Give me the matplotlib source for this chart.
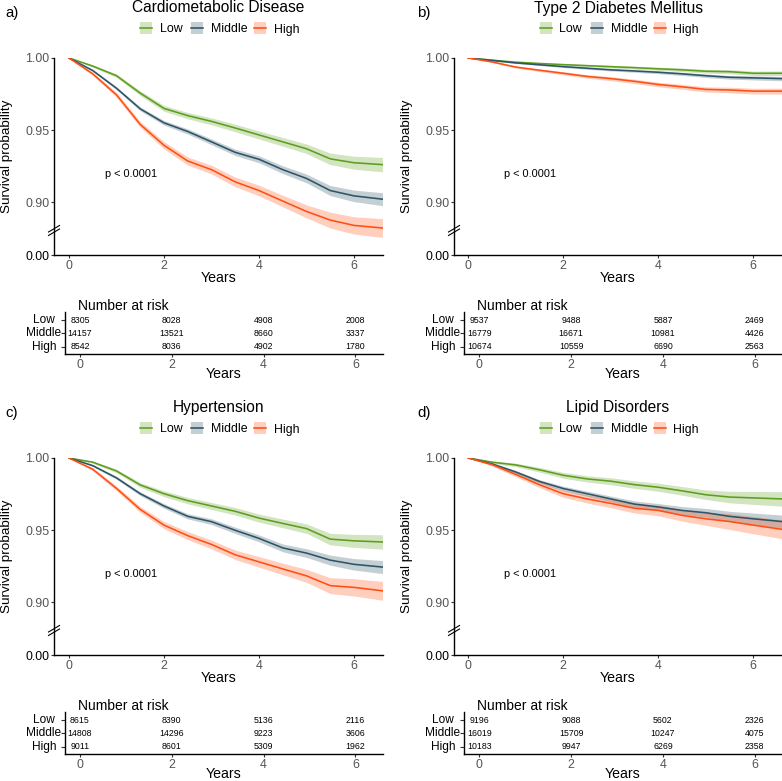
import matplotlib
matplotlib.use("Agg")
import matplotlib.pyplot as plt
from matplotlib.patches import Rectangle
from matplotlib.lines import Line2D

plt.rcParams['font.family'] = ['Liberation Sans', 'DejaVu Sans']

W, H = 782, 781
DPI = 100

# ---------------- data ----------------
groups = ["Low", "Middle", "High"]
colors = ["#5E9E1E", "#2E5467", "#FF4F12"]

times = [0, 0.5, 1, 1.5, 2, 2.5, 3, 3.5, 4, 4.5, 5, 5.5, 6, 6.6]

titles = ["Cardiometabolic Disease", "Type 2 Diabetes Mellitus", "Hypertension", "Lipid Disorders"]
panel_tags = ["a)", "b)", "c)", "d)"]
pval_text = "p < 0.0001"

# survival estimates (Low, Middle, High) per panel
surv_a_low = [1.0, 0.9944, 0.9877, 0.9756, 0.965, 0.960, 0.956, 0.9514, 0.9466, 0.9418, 0.937, 0.930, 0.9273, 0.926]
surv_a_mid = [1.0, 0.9913, 0.979, 0.9647, 0.955, 0.949, 0.9418, 0.9345, 0.9297, 0.9225, 0.9164, 0.908, 0.9043, 0.902]
surv_a_high = [1.0, 0.989, 0.9744, 0.9539, 0.9394, 0.9285, 0.9225, 0.914, 0.908, 0.9007, 0.8935, 0.8875, 0.8838, 0.882]

surv_b_low = [1.0, 0.9985, 0.9971, 0.9962, 0.9954, 0.9947, 0.994, 0.9933, 0.9925, 0.9918, 0.9908, 0.9905, 0.9894, 0.9894]
surv_b_mid = [1.0, 0.9983, 0.9966, 0.9953, 0.994, 0.9929, 0.9918, 0.991, 0.9901, 0.989, 0.9877, 0.9866, 0.9862, 0.9857]
surv_b_high = [1.0, 0.9973, 0.9937, 0.9915, 0.9894, 0.9872, 0.9857, 0.9838, 0.9816, 0.9800, 0.9782, 0.9778, 0.977, 0.977]

surv_c_low = [1.0, 0.9971, 0.991, 0.9813, 0.9752, 0.9704, 0.9667, 0.963, 0.9583, 0.9546, 0.951, 0.9437, 0.9425, 0.9417]
surv_c_mid = [1.0, 0.9947, 0.9862, 0.9752, 0.9667, 0.9595, 0.9558, 0.9498, 0.9442, 0.9376, 0.934, 0.9291, 0.9262, 0.9243]
surv_c_high = [1.0, 0.9922, 0.9789, 0.9643, 0.9534, 0.9461, 0.94, 0.9328, 0.9279, 0.923, 0.9182, 0.9114, 0.9102, 0.9078]

surv_d_low = [1.0, 0.9971, 0.9952, 0.9918, 0.988, 0.9855, 0.9839, 0.9815, 0.9797, 0.9772, 0.9745, 0.9729, 0.9723, 0.9716]
surv_d_mid = [1.0, 0.9959, 0.9903, 0.9837, 0.9788, 0.9752, 0.9716, 0.968, 0.966, 0.9636, 0.962, 0.9595, 0.9578, 0.9559]
surv_d_high = [1.0, 0.9954, 0.9886, 0.9814, 0.9752, 0.9716, 0.9685, 0.9651, 0.9636, 0.9602, 0.9578, 0.9559, 0.9534, 0.9505]

# confidence-band half widths
ci_big_low = [0, .0008, .0012, .0016, .002, .0022, .0024, .0026, .0028, .003, .0033, .004, .0045, .005]
ci_big_mid = [0, .0007, .001, .0013, .0016, .0018, .002, .0022, .0024, .0027, .003, .0035, .004, .0045]
ci_big_high = [0, .0011, .0016, .002, .0025, .0028, .003, .0033, .0037, .004, .0045, .0055, .006, .0065]
ci_small_low = [0, .0003, .0005, .0006, .0007, .0008, .0009, .001, .0011, .0012, .0013, .0014, .0015, .0016]
ci_small_mid = [0, .0003, .0004, .0005, .0006, .0007, .0008, .0009, .001, .0011, .0012, .0013, .0014, .0015]
ci_small_high = [0, .0005, .0007, .0009, .0011, .0012, .0014, .0015, .0016, .0017, .0018, .0019, .002, .0021]

# number at risk
risk_times = [0, 2, 4, 6]
risk_a = [[8305, 8028, 4908, 2008], [14157, 13521, 8660, 3337], [8542, 8036, 4902, 1780]]
risk_b = [[9537, 9488, 5887, 2469], [16779, 16671, 10981, 4426], [10674, 10559, 6690, 2563]]
risk_c = [[8615, 8390, 5136, 2116], [14808, 14296, 9223, 3606], [9011, 8601, 5309, 1962]]
risk_d = [[9196, 9088, 5602, 2326], [16019, 15709, 10247, 4075], [10183, 9947, 6269, 2358]]

y_ticks = [0.90, 0.95, 1.00]
y_tick_labels = ["0.90", "0.95", "1.00"]
break_label = "0.00"
x_ticks = [0, 2, 4, 6]

panels = [
    dict(surv=[surv_a_low, surv_a_mid, surv_a_high], ci=[ci_big_low, ci_big_mid, ci_big_high], risk=risk_a),
    dict(surv=[surv_b_low, surv_b_mid, surv_b_high], ci=[ci_small_low, ci_small_mid, ci_small_high], risk=risk_b),
    dict(surv=[surv_c_low, surv_c_mid, surv_c_high], ci=[ci_big_low, ci_big_mid, ci_big_high], risk=risk_c),
    dict(surv=[surv_d_low, surv_d_mid, surv_d_high], ci=[ci_big_low, ci_big_mid, ci_big_high], risk=risk_d),
]

# ---------------- layout (pixels) ----------------
geo = [
    dict(oy=0, L=54, R=383, x0=69, tL=65, tR=383, tx0=80, tag_x=5),
    dict(oy=0, L=454, R=782, x0=468.3, tL=464, tR=782, tx0=479.3, tag_x=417),
    dict(oy=400, L=54, R=383, x0=69, tL=65, tR=383, tx0=80, tag_x=5),
    dict(oy=400, L=454, R=782, x0=468.3, tL=464, tR=782, tx0=479.3, tag_x=417),
]
PPU = 47.5        # main plot pixels per year
TPPU = 45.9       # table pixels per year
Y_TOP_PX, Y_BOT_PX = 58, 255
Y1_PX, Y90_PX = 66.3, 204.3
YPP = (Y90_PX - Y1_PX) / 0.10

GRAY = "#555555"

fig = plt.figure(figsize=(W / DPI, H / DPI), dpi=DPI)


def fx(x):
    return x / W


def fy(y):
    return 1 - y / H


def add_ax(L, R, T, B):
    return fig.add_axes([fx(L), fy(B), (R - L) / W, (B - T) / H])


def style_axes(ax):
    for s in ["top", "right"]:
        ax.spines[s].set_visible(False)
    for s in ["left", "bottom"]:
        ax.spines[s].set_linewidth(1.0)
        ax.spines[s].set_color("black")
    ax.set_facecolor("none")
    ax.tick_params(axis="both", length=2.2, width=0.8, color="#333333", pad=1.3,
                   labelsize=8.9, labelcolor=GRAY)


for i, (p, g) in enumerate(zip(panels, geo)):
    oy = g["oy"]
    L, R, x0 = g["L"], g["R"], g["x0"]
    T, B = Y_TOP_PX + oy, Y_BOT_PX + oy
    ax = add_ax(L, R, T, B)
    style_axes(ax)
    ax.set_xlim((L - x0) / PPU, (R - x0) / PPU)
    ytop = 1.0 + (Y_TOP_PX - Y1_PX) / YPP
    ybot = 0.90 - (Y_BOT_PX - Y90_PX) / YPP
    ax.set_ylim(ybot, ytop)

    for k in range(3):
        s = p["surv"][k]
        c = p["ci"][k]
        lo = [a - b for a, b in zip(s, c)]
        hi = [a + b for a, b in zip(s, c)]
        ax.fill_between(times, lo, hi, color=colors[k], alpha=0.28, lw=0)
    for k in range(3):
        ax.plot(times, p["surv"][k], color=colors[k], lw=1.15, solid_joinstyle="miter")

    ax.set_yticks([ybot] + y_ticks)
    ax.set_yticklabels([break_label] + y_tick_labels)
    ax.get_yticklabels()[0].set_color("black")
    ax.set_xticks(x_ticks)
    ax.set_xticklabels([str(t) for t in x_ticks])

    # p value
    ax.text(0.76, 1.0 - (177.7 - Y1_PX) / YPP, pval_text, fontsize=7.9, ha="left", va="center",
            color="black")

    # axis break marks
    for dy in (0, -3.5):
        fig.add_artist(Line2D([fx(L - 5.5), fx(L + 5.5)],
                              [fy(oy + 235.5 + dy), fy(oy + 229 + dy)],
                              color="black", lw=0.8))

    # y label
    fig.text(fx(L - 47), fy((T + B) / 2), "Survival probability", rotation=90,
             fontsize=9.7, ha="center", va="center")
    # x label
    fig.text(fx((L + R) / 2), fy(oy + 282), "Years", fontsize=10.2, ha="center", va="baseline")

    # title
    cx = (L + R) / 2
    fig.text(fx(cx), fy(oy + 12.5), titles[i], fontsize=11.2, ha="center", va="baseline")
    fig.text(fx(g["tag_x"]), fy(oy + 16.5), panel_tags[i], fontsize=10.8, ha="left", va="baseline")

    # legend
    key_starts = [cx - 78.5, cx - 27.5, cx + 35.5]
    txt_starts = [cx - 58.5, cx - 7.5, cx + 55.5]
    ly = oy + 28.3
    for k in range(3):
        kx = key_starts[k]
        fig.add_artist(Rectangle((fx(kx), fy(ly + 6)), 12 / W, 12 / H, transform=fig.transFigure,
                                 facecolor=colors[k], alpha=0.28, lw=0))
        fig.add_artist(Line2D([fx(kx), fx(kx + 12)], [fy(ly), fy(ly)], color=colors[k], lw=1.15))
        fig.text(fx(txt_starts[k]), fy(oy + 32.5), groups[k], fontsize=8.9, ha="left", va="baseline")

    # risk table
    tL, tR, tx0 = g["tL"], g["tR"], g["tx0"]
    tT, tB = oy + 312, oy + 354
    tax = add_ax(tL, tR, tT, tB)
    style_axes(tax)
    tax.set_xlim((tL - tx0) / TPPU, (tR - tx0) / TPPU)
    row_px = [320, 333.3, 346.7]
    rpp = 13.33
    tax.set_ylim(1 - (354 - 346.7) / rpp, 3 + (320 - 312) / rpp)
    tax.set_xticks(x_ticks)
    tax.set_xticklabels([str(t) for t in x_ticks])
    tax.set_yticks([3, 2, 1])
    tax.set_yticklabels([])
    tax.tick_params(axis="y", length=3.0, color="#333333")
    for k in range(3):
        yv = 3 - k
        for t, n in zip(risk_times, p["risk"][k]):
            tax.text(t, yv, str(n), fontsize=6.3, ha="center", va="center", color="black")
        fig.text(fx(tL - 21), fy(oy + row_px[k]), groups[k], fontsize=8.6, ha="center",
                 va="center", color="black")
    fig.text(fx(tL + 13), fy(oy + 310), "Number at risk", fontsize=10, ha="left", va="baseline")
    fig.text(fx((tL + tR) / 2), fy(oy + 378), "Years", fontsize=10.2, ha="center", va="baseline")

fig.savefig("out.png", dpi=DPI)
